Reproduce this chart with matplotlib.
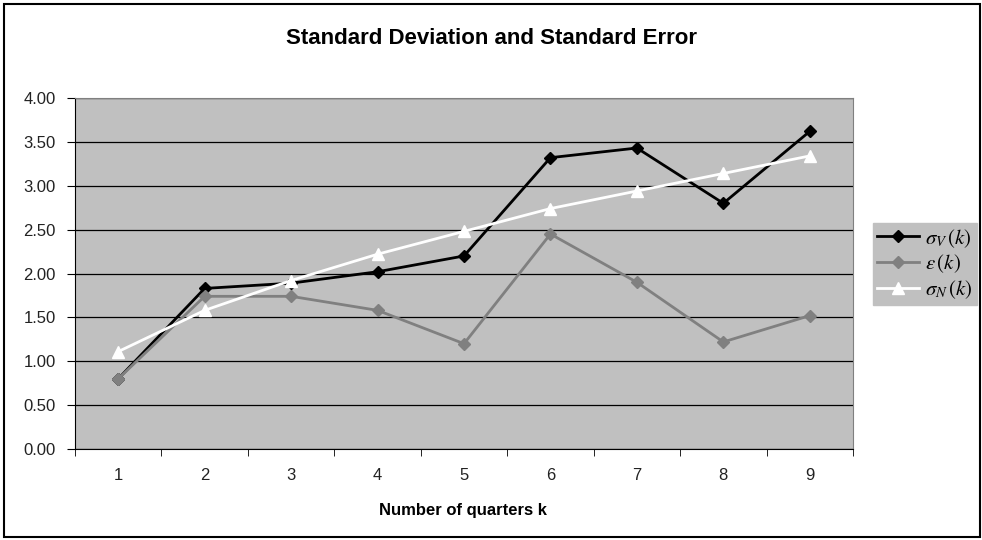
import matplotlib.pyplot as plt
from matplotlib.patches import Rectangle

plt.rcParams['font.family'] = ['Liberation Sans', 'DejaVu Sans']
plt.rcParams['mathtext.fontset'] = 'stix'

# Data
quarters = [1, 2, 3, 4, 5, 6, 7, 8, 9]
sigma_v = [0.80, 1.83, 1.89, 2.02, 2.20, 3.32, 3.43, 2.80, 3.62]
eps = [0.80, 1.74, 1.74, 1.58, 1.20, 2.45, 1.90, 1.22, 1.52]
sigma_n = [1.11, 1.58, 1.92, 2.22, 2.48, 2.74, 2.94, 3.14, 3.34]
y_ticks = [0.0, 0.5, 1.0, 1.5, 2.0, 2.5, 3.0, 3.5, 4.0]

fig = plt.figure(figsize=(9.82, 5.4), dpi=100)
ax = fig.add_axes([75 / 982, 1 - 449 / 540, 778 / 982, 351 / 540])
ax.set_facecolor('#c0c0c0')

# outer frame
fig.patches.append(Rectangle((4 / 982, 3 / 540), 976 / 982, 533 / 540,
                             transform=fig.transFigure, fill=False,
                             edgecolor='black', linewidth=1.5))

ax.plot(quarters, sigma_v, '-D', color='black', linewidth=2, markersize=6,
        label=r'$\sigma_V\,(k)$')
ax.plot(quarters, eps, '-D', color='#808080', linewidth=2, markersize=6,
        label=r'$\varepsilon\,(k)$')
ax.plot(quarters, sigma_n, '-^', color='white', linewidth=2, markersize=8,
        label=r'$\sigma_N\,(k)$')

ax.set_xlim(0.5, 9.5)
ax.set_ylim(0, 4)
ax.set_yticks(y_ticks)
ax.set_yticklabels([f'{v:.2f}' for v in y_ticks], fontsize=12, color='#222222')
ax.set_xticks(quarters)
ax.set_xticklabels([str(q) for q in quarters], fontsize=12, color='#222222')
ax.set_xticks([q + 0.5 for q in range(0, 10)], minor=True)
ax.tick_params(axis='x', which='major', length=0, pad=14)
ax.tick_params(axis='x', which='minor', length=5, direction='out')
ax.tick_params(axis='y', length=6, direction='out', pad=8)
ax.grid(axis='y', color='black', linewidth=0.9)
ax.set_axisbelow(True)

for s in ['top', 'right']:
    ax.spines[s].set_color('#808080')
    ax.spines[s].set_linewidth(0.8)
for s in ['left', 'bottom']:
    ax.spines[s].set_color('black')

fig.text(0.5, 1 - 38 / 540, 'Standard Deviation and Standard Error',
         ha='center', va='center', fontsize=16, fontweight='bold')
fig.text(463 / 982, 1 - 510 / 540, 'Number of quarters k',
         ha='center', va='center', fontsize=12, fontweight='bold')

leg = ax.legend(loc='center left', bbox_to_anchor=(873 / 982, 1 - 264 / 540),
                bbox_transform=fig.transFigure, frameon=True, fancybox=False,
                facecolor='#c0c0c0', edgecolor='#c0c0c0', framealpha=1,
                fontsize=15, handlelength=2.0, borderpad=0.2, borderaxespad=0,
                labelspacing=0.15, handletextpad=0.3)

fig.savefig('out.png', dpi=100)
